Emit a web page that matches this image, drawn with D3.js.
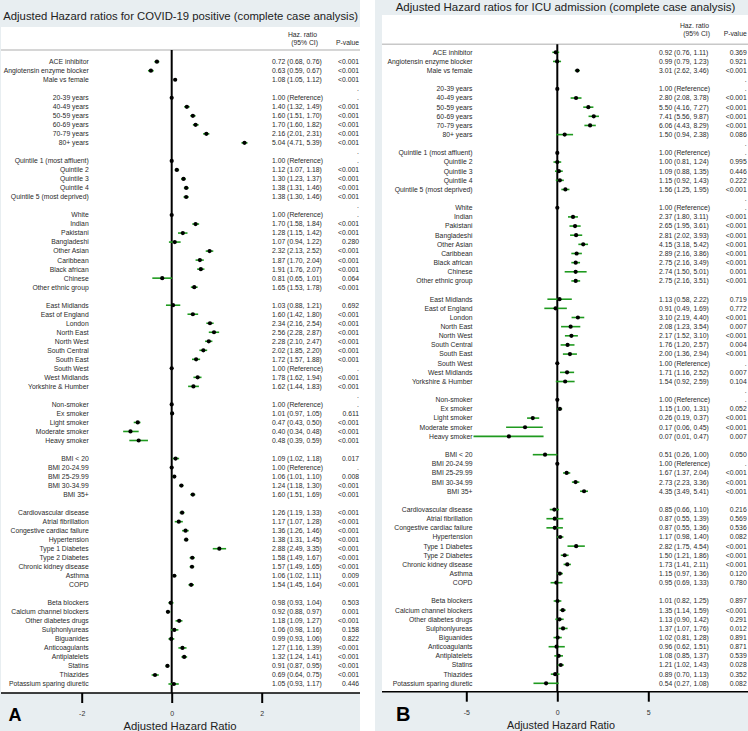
<!DOCTYPE html>
<html><head><meta charset="utf-8">
<script src="https://cdn.jsdelivr.net/npm/d3@7"></script>
<style>
body{margin:0;background:#fff}
svg{display:block}
text{font-family:"Liberation Sans",Arial,Helvetica,sans-serif}
</style>
</head><body>
<svg id="c" width="748" height="731"></svg>
<script>
// ---------- DATA ----------
const labels = ["ACE inhibitor","Angiotensin enzyme blocker","Male vs female","",
"20-39 years","40-49 years","50-59 years","60-69 years","70-79 years","80+ years","",
"Quintile 1 (most affluent)","Quintile 2","Quintile 3","Quintile 4","Quintile 5 (most deprived)","",
"White","Indian","Pakistani","Bangladeshi","Other Asian","Caribbean","Black african","Chinese","Other ethnic group","",
"East Midlands","East of England","London","North East","North West","South Central","South East","South West","West Midlands","Yorkshire & Humber","",
"Non-smoker","Ex smoker","Light smoker","Moderate smoker","Heavy smoker","",
"BMI < 20","BMI 20-24.99","BMI 25-29.99","BMI 30-34.99","BMI 35+","",
"Cardiovascular disease","Atrial fibrillation","Congestive cardiac failure","Hypertension","Type 1 Diabetes","Type 2 Diabetes","Chronic kidney disease","Asthma","COPD","",
"Beta blockers","Calcium channel blockers","Other diabetes drugs","Sulphonlyureas","Biguanides","Anticoagulants","Antiplatelets","Statins","Thiazides","Potassium sparing diuretic"];

// Panel A: COVID-19 positive
const hrA = [0.72,0.63,1.08,null, 1.00,1.40,1.60,1.70,2.16,5.04,null, 1.00,1.12,1.30,1.38,1.38,null,
1.00,1.70,1.28,1.07,2.32,1.87,1.91,0.81,1.65,null,
1.03,1.60,2.34,2.56,2.28,2.02,1.72,1.00,1.78,1.62,null,
1.00,1.01,0.47,0.40,0.48,null, 1.09,1.00,1.06,1.24,1.60,null,
1.26,1.17,1.36,1.38,2.88,1.58,1.57,1.06,1.54,null,
0.98,0.92,1.18,1.06,0.99,1.27,1.32,0.91,0.69,1.05];
const loA = [0.68,0.59,1.05,null, null,1.32,1.51,1.60,2.01,4.71,null, null,1.07,1.23,1.31,1.30,null,
null,1.58,1.15,0.94,2.13,1.70,1.76,0.65,1.53,null,
0.88,1.42,2.16,2.28,2.10,1.85,1.57,null,1.62,1.44,null,
null,0.97,0.43,0.34,0.39,null, 1.02,null,1.01,1.18,1.51,null,
1.19,1.07,1.26,1.31,2.49,1.49,1.49,1.02,1.45,null,
0.93,0.88,1.09,0.98,0.93,1.16,1.24,0.87,0.64,0.93];
const hiA = [0.76,0.67,1.12,null, null,1.49,1.70,1.82,2.31,5.39,null, null,1.18,1.37,1.46,1.46,null,
null,1.84,1.42,1.22,2.52,2.04,2.07,1.01,1.78,null,
1.21,1.80,2.54,2.87,2.47,2.20,1.88,null,1.94,1.83,null,
null,1.05,0.50,0.48,0.59,null, 1.18,null,1.10,1.30,1.69,null,
1.33,1.28,1.46,1.45,3.35,1.67,1.65,1.11,1.64,null,
1.04,0.97,1.27,1.16,1.06,1.39,1.41,0.95,0.75,1.17];
const pA = ["<0.001","<0.001","<0.001",".", ".","<0.001","<0.001","<0.001","<0.001","<0.001",".",
".","<0.001","<0.001","<0.001","<0.001",".",
".","<0.001","<0.001","0.280","<0.001","<0.001","<0.001","0.064","<0.001","",
"0.692","<0.001","<0.001","<0.001","<0.001","<0.001","<0.001",".","<0.001","<0.001",".",
".","0.611","<0.001","<0.001","<0.001","", "0.017",".","0.008","<0.001","<0.001","",
"<0.001","<0.001","<0.001","<0.001","<0.001","<0.001","<0.001","0.009","<0.001","",
"0.503","0.001","<0.001","0.158","0.822","<0.001","<0.001","<0.001","<0.001","0.446"];

// Panel B: ICU admission
const hrB = [0.92,0.99,3.01,null, 1.00,2.80,5.50,7.41,6.06,1.50,null, 1.00,1.00,1.09,1.15,1.56,null,
1.00,2.37,2.65,2.81,4.15,2.89,2.75,2.74,2.75,null,
1.13,0.91,3.10,2.08,2.17,1.76,2.00,1.00,1.71,1.54,null,
1.00,1.15,0.26,0.17,0.07,null, 0.51,1.00,1.67,2.73,4.35,null,
0.85,0.87,0.87,1.17,2.82,1.50,1.73,1.15,0.95,null,
1.01,1.35,1.13,1.37,1.02,0.96,1.08,1.21,0.89,0.54];
const loB = [0.76,0.79,2.62,null, null,2.08,4.16,5.56,4.43,0.94,null, null,0.81,0.88,0.92,1.25,null,
null,1.80,1.95,2.02,3.18,2.16,2.16,1.50,2.16,null,
0.58,0.49,2.19,1.23,1.52,1.20,1.36,null,1.16,0.92,null,
null,1.00,0.19,0.06,0.01,null, 0.26,null,1.37,2.23,3.49,null,
0.66,0.55,0.55,0.98,1.75,1.21,1.41,0.97,0.69,null,
0.82,1.14,0.90,1.07,0.81,0.62,0.85,1.02,0.70,0.27];
const hiB = [1.11,1.23,3.46,null, null,3.78,7.27,9.87,8.29,2.38,null, null,1.24,1.35,1.43,1.95,null,
null,3.11,3.61,3.93,5.42,3.86,3.49,5.01,3.51,null,
2.22,1.69,4.40,3.54,3.10,2.57,2.94,null,2.52,2.59,null,
null,1.31,0.37,0.45,0.47,null, 1.00,null,2.04,3.36,5.41,null,
1.10,1.39,1.36,1.40,4.54,1.86,2.11,1.36,1.33,null,
1.25,1.59,1.42,1.76,1.28,1.51,1.37,1.43,1.13,1.08];
const pB = ["0.369","0.921","<0.001",".", ".","<0.001","<0.001","<0.001","<0.001","0.086",".",
".","0.995","0.446","0.222","<0.001",".",
".","<0.001","<0.001","<0.001","<0.001","<0.001","<0.001","0.001","<0.001","",
"0.719","0.772","<0.001","0.007","<0.001","0.004","<0.001",".","0.007","0.104",".",
".","0.052","<0.001","<0.001","0.007","", "0.050",".","<0.001","<0.001","<0.001","",
"0.216","0.569","0.536","0.082","<0.001","<0.001","<0.001","0.120","0.780","",
"0.897","<0.001","0.291","0.012","0.891","0.871","0.539","0.028","0.352","0.082"];

const titleA = "Adjusted Hazard ratios for COVID-19 positive (complete case analysis)";
const titleB = "Adjusted Hazard ratios for ICU admission (complete case analysis)";
const ticksA = [-2, 0, 2];
const ticksB = [-5, 0, 5];
const headHR = ["Haz. ratio", "(95% CI)"];
const headP = "P-value";
const xTitle = "Adjusted Hazard Ratio";

// ---------- DRAW ----------
const svg = d3.select("#c");
const BAND = "#e8eef1";
const GREEN = "#1f9a1f";
const TXT = "#2a2a2a";

function fitText(sel, targetW) {
  const w = sel.node().getComputedTextLength();
  const fs = parseFloat(sel.attr("font-size"));
  sel.attr("font-size", fs * targetW / w);
}

function panel(cfg, hr, lo, hi, p, title, ticks, letter) {
  const g = svg.append("g");
  // background
  g.append("rect").attr("x", cfg.bx0).attr("y", 0).attr("width", cfg.bx1 - cfg.bx0).attr("height", 731).attr("fill", BAND);
  g.append("rect").attr("x", cfg.wx0).attr("y", cfg.wTop).attr("width", cfg.bx1 - cfg.wx0).attr("height", cfg.axisY - cfg.wTop).attr("fill", "#fff");

  const t = g.append("text").attr("x", cfg.titleX).attr("y", cfg.titleY).attr("font-size", 12).attr("fill", "#222").text(title);
  fitText(t, cfg.titleW);

  // header
  g.append("text").attr("x", cfg.hrHeadX).attr("y", cfg.head1Y).attr("text-anchor", "end").attr("font-size", 6.8).attr("fill", TXT).text(headHR[0]);
  g.append("text").attr("x", cfg.hrHeadX + 1).attr("y", cfg.head2Y).attr("text-anchor", "end").attr("font-size", 6.8).attr("fill", TXT).text(headHR[1]);
  g.append("text").attr("x", cfg.pX).attr("y", cfg.head2Y).attr("text-anchor", "end").attr("font-size", 6.8).attr("fill", TXT).text(headP);
  g.append("line").attr("x1", cfg.wx0).attr("x2", cfg.bx1).attr("y1", cfg.divY).attr("y2", cfg.divY).attr("stroke", "#c8c8c8").attr("stroke-width", 1.5);

  const x = d3.scaleLinear().domain([ticks[0], ticks[2]]).range([cfg.tx0, cfg.tx2]);
  const y = d3.scalePoint().domain(d3.range(labels.length)).range([cfg.row0, cfg.rowN]);
  const L = v => x(Math.log(v));

  // zero line
  g.append("line").attr("x1", x(0)).attr("x2", x(0)).attr("y1", cfg.divY).attr("y2", cfg.axisY).attr("stroke", "#000").attr("stroke-width", 2);

  const rows = labels.map((lab, i) => ({i, lab, hr: hr[i], lo: lo[i], hi: hi[i], p: p[i]}));
  // labels
  g.selectAll(".lab").data(rows.filter(d => d.lab)).join("text")
    .attr("x", cfg.labX).attr("y", d => y(d.i) + 2.4).attr("text-anchor", "end")
    .attr("font-size", 6.8).attr("fill", TXT).text(d => d.lab);
  // HR text
  g.selectAll(".hrt").data(rows.filter(d => d.hr != null)).join("text")
    .attr("x", cfg.hrX).attr("y", d => y(d.i) + 2.4)
    .attr("font-size", 6.8).attr("fill", TXT)
    .text(d => d.lo == null ? d.hr.toFixed(2) + " (Reference)" : `${d.hr.toFixed(2)} (${d.lo.toFixed(2)}, ${d.hi.toFixed(2)})`);
  // p text
  g.selectAll(".pt").data(rows.filter(d => d.p)).join("text")
    .attr("x", cfg.pX).attr("y", d => y(d.i) + 2.4).attr("text-anchor", "end")
    .attr("font-size", 6.8).attr("fill", TXT).text(d => d.p);
  // CI
  g.selectAll(".ci").data(rows.filter(d => d.lo != null)).join("line")
    .attr("x1", d => L(d.lo)).attr("x2", d => L(d.hi))
    .attr("y1", d => y(d.i)).attr("y2", d => y(d.i))
    .attr("stroke", GREEN).attr("stroke-width", 1.6);
  // points
  g.selectAll(".pt2").data(rows.filter(d => d.hr != null)).join("circle")
    .attr("cx", d => L(d.hr)).attr("cy", d => y(d.i)).attr("r", 2.1).attr("fill", "#000");

  // axis
  g.append("line").attr("x1", cfg.wx0).attr("x2", cfg.bx1).attr("y1", cfg.axisY).attr("y2", cfg.axisY).attr("stroke", "#000").attr("stroke-width", 1.5);
  const ax = g.append("g").attr("transform", `translate(0,${cfg.axisY})`)
    .call(d3.axisBottom(x).tickValues(ticks).tickSize(10).tickSizeOuter(0).tickPadding(8.5).tickFormat(d3.format("d")));
  ax.select(".domain").remove();
  ax.selectAll("line").attr("stroke", "#000").attr("stroke-width", 2);
  ax.selectAll("text").attr("font-size", 7).attr("fill", "#333").attr("font-family", '"Liberation Sans",Arial,sans-serif').text(d => d < 0 ? "-" + Math.abs(d) : d);

  g.append("text").attr("x", cfg.xtX).attr("y", cfg.xtY).attr("text-anchor", "middle").attr("font-size", cfg.xtFs).attr("fill", "#222").text(xTitle);
  g.append("text").attr("x", cfg.letX).attr("y", cfg.letY).attr("font-size", cfg.letFs).attr("font-weight", "bold").attr("fill", "#000").text(letter);
}

panel({bx0: 0, bx1: 360, wx0: 1, wTop: 27, axisY: 693, titleX: 3.3, titleY: 19.5, titleW: 355,
  hrHeadX: 317, head1Y: 36.7, head2Y: 44.7, pX: 359, divY: 50,
  tx0: 81.7, tx2: 261.7, row0: 61.7, rowN: 684, labX: 88.7, hrX: 272,
  xtX: 180, xtY: 729.5, xtFs: 11.3, letX: 8.5, letY: 721, letFs: 18}, hrA, loA, hiA, pA, titleA, ticksA, "A");

panel({bx0: 375, bx1: 748, wx0: 382, wTop: 15, axisY: 691.7, titleX: 395.7, titleY: 11, titleW: 340,
  hrHeadX: 709, head1Y: 27.5, head2Y: 35.7, pX: 746.7, divY: 44.3,
  tx0: 466.3, tx2: 648.3, row0: 52.3, rowN: 683.3, labX: 472.5, hrX: 659,
  xtX: 561, xtY: 729, xtFs: 10.8, letX: 396, letY: 721, letFs: 20}, hrB, loB, hiB, pB, titleB, ticksB, "B");
</script>
</body></html>
